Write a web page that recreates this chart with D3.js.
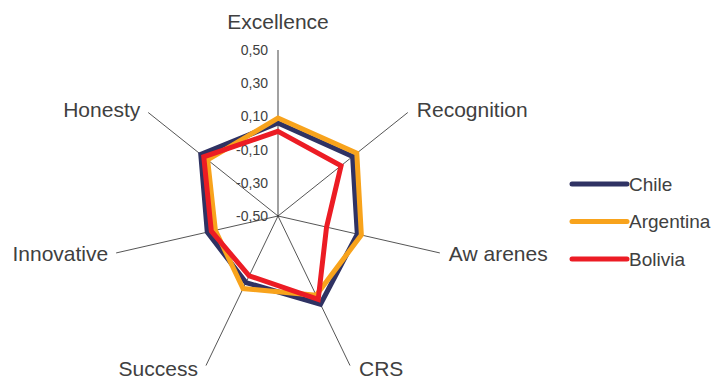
<!DOCTYPE html>
<html>
<head>
<meta charset="utf-8">
<script src="https://cdn.jsdelivr.net/npm/d3@7"></script>
<style>
  html, body { margin: 0; padding: 0; background: #fff; }
  svg { display: block; }
  text { font-family: "Liberation Sans", Arial, Helvetica, sans-serif; fill: #404040; }
</style>
</head>
<body>
<svg id="chart" width="715" height="383"></svg>
<script>
// ---- Data ----
const axes = ["Excellence", "Recognition", "Aw arenes", "CRS", "Success", "Innovative", "Honesty"];
const seriesNames = ["Chile", "Argentina", "Bolivia"];
const chile     = [0.06, 0.075, -0.01, 0.09, -0.055, -0.063, 0.095];
const argentina = [0.09, 0.107, 0.015, 0.03, -0.015, -0.113, 0.042];
const bolivia   = [0.01, -0.014, -0.20, 0.058, -0.10, -0.088, 0.072];
const tickValues = [0.5, 0.3, 0.1, -0.1, -0.3, -0.5];
const tickLabels = ["0,50", "0,30", "0,10", "-0,10", "-0,30", "-0,50"];
const colors = ["#2f3263", "#f8a31c", "#ec1c24"];

const seriesData = [chile, argentina, bolivia];

// ---- Layout ----
const svg = d3.select("#chart");
const cx = 278, cy = 216, R = 166;
const r = d3.scaleLinear().domain([-0.5, 0.5]).range([0, R]);
const ang = i => (2 * Math.PI * i) / axes.length;

const g = svg.append("g").attr("transform", `translate(${cx},${cy})`);

// axes lines
axes.forEach((a, i) => {
  const t = ang(i);
  const ex = Math.sin(t) * R, ey = -Math.cos(t) * R;
  g.append("line")
    .attr("x1", 0).attr("y1", 0).attr("x2", ex).attr("y2", ey)
    .attr("stroke", i === 0 ? "#8a8a8a" : "#2a2a2a")
    .attr("stroke-width", i === 0 ? 1.6 : 0.8);

  // labels
  let lx, ly, anchor;
  if (i === 0) {
    lx = ex; ly = ey - 21; anchor = "middle";
  } else {
    const s = Math.sin(t);
    lx = ex + (s > 0 ? 9 : -8);
    ly = ey + 7 - 4 * Math.cos(t);
    anchor = s > 0 ? "start" : "end";
  }
  g.append("text")
    .attr("x", lx).attr("y", ly)
    .attr("text-anchor", anchor)
    .style("font-size", "21px")
    .text(a);
});

// tick labels along top axis
tickValues.forEach((v, i) => {
  g.append("text")
    .attr("x", -10)
    .attr("y", -r(v))
    .attr("dy", "0.36em")
    .attr("text-anchor", "end")
    .style("font-size", "14px")
    .text(tickLabels[i]);
});

// series polygons
const line = d3.lineRadial()
  .angle((d, i) => ang(i))
  .radius(d => r(d))
  .curve(d3.curveLinearClosed);

seriesData.forEach((vals, k) => {
  g.append("path")
    .attr("d", line(vals))
    .attr("fill", "none")
    .attr("stroke", colors[k])
    .attr("stroke-width", 5)
    .attr("stroke-linejoin", "miter");
});

// legend
const legY = [184, 221.5, 259];
seriesNames.forEach((n, k) => {
  svg.append("line")
    .attr("x1", 572).attr("x2", 627)
    .attr("y1", legY[k]).attr("y2", legY[k])
    .attr("stroke", colors[k]).attr("stroke-width", 5)
    .attr("stroke-linecap", "round");
  svg.append("text")
    .attr("x", 629).attr("y", legY[k])
    .attr("dy", "0.36em")
    .style("font-size", "19px")
    .text(n);
});
</script>
</body>
</html>
